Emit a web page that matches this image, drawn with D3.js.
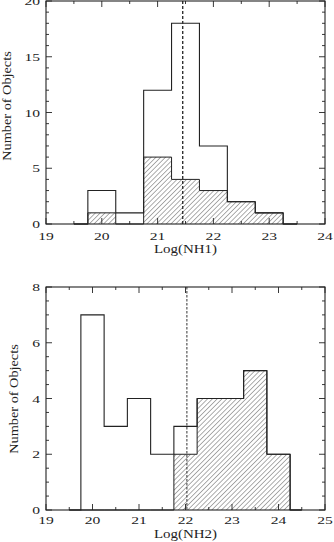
<!DOCTYPE html>
<html>
<head>
<meta charset="utf-8">
<script src="https://cdn.jsdelivr.net/npm/d3@7"></script>
<style>
  html, body { margin: 0; padding: 0; background: #fff; }
  svg { display: block; }
</style>
</head>
<body>
<svg id="chart" width="334" height="542"></svg>
<script>
// panel 1: Log(NH1)
const centers1 = [19.5, 20, 20.5, 21, 21.5, 22, 22.5, 23, 23.5];
const total1 = [0, 3, 1, 12, 18, 7, 2, 1, 0];
const hatched1 = [0, 1, 0, 6, 4, 3, 2, 1, 0];
const median1 = 21.45;
const xTicks1 = [19, 20, 21, 22, 23, 24];
const yTicks1 = [0, 5, 10, 15, 20];

// panel 2: Log(NH2)
const centers2 = [19.5, 20, 20.5, 21, 21.5, 22, 22.5, 23, 23.5, 24, 24.5];
const total2 = [0, 7, 3, 4, 2, 3, 4, 4, 5, 2, 0];
const hatched2 = [0, 0, 0, 0, 0, 2, 4, 4, 5, 2, 0];
const median2 = 22.03;
const xTicks2 = [19, 20, 21, 22, 23, 24, 25];
const yTicks2 = [0, 2, 4, 6, 8];

const svg = d3.select("#chart");
const ink = "#222";
const serif = "'Liberation Serif', 'Times New Roman', Times, serif";

svg.append("defs").append("pattern")
    .attr("id", "hatch")
    .attr("patternUnits", "userSpaceOnUse")
    .attr("width", 3.4)
    .attr("height", 3.4)
    .attr("patternTransform", "rotate(45)")
  .append("line")
    .attr("x1", 0).attr("y1", 0)
    .attr("x2", 0).attr("y2", 3.4)
    .attr("stroke", "#333")
    .attr("stroke-width", 0.8);

function label(g, transform, anchor, txt) {
    return g.append("text")
        .attr("transform", transform)
        .attr("text-anchor", anchor)
        .attr("font-family", serif)
        .attr("font-size", 13)
        .attr("fill", ink)
        .text(txt);
}

function panel(opt) {
    const left = 46, right = 325;
    const x = d3.scaleLinear().domain(opt.xDomain).range([left, right]);
    const y = d3.scaleLinear().domain(opt.yDomain).range([opt.bottom, opt.top]);
    const g = svg.append("g");

    const rows = opt.centers.map((c, i) => ({ c, all: opt.total[i], sub: opt.hatched[i] }));

    // hatched sub-sample
    g.append("path")
        .datum(rows)
        .attr("fill", "url(#hatch)")
        .attr("d", d3.area().curve(d3.curveStep)
            .x(d => x(d.c)).y0(y(0)).y1(d => y(d.sub)));

    g.append("path")
        .datum(rows)
        .attr("fill", "none")
        .attr("stroke", ink)
        .attr("stroke-width", 1)
        .attr("d", d3.line().curve(d3.curveStep).x(d => x(d.c)).y(d => y(d.sub)));

    // full sample outline
    g.append("path")
        .datum(rows)
        .attr("fill", "none")
        .attr("stroke", ink)
        .attr("stroke-width", 1.1)
        .attr("d", d3.line().curve(d3.curveStep).x(d => x(d.c)).y(d => y(d.all)));

    // median line
    g.append("line")
        .attr("x1", x(opt.median)).attr("x2", x(opt.median))
        .attr("y1", y(opt.yDomain[1])).attr("y2", y(0))
        .attr("stroke", "#333")
        .attr("stroke-width", opt.dashWidth)
        .attr("stroke-dasharray", opt.dash);

    // frame
    g.append("rect")
        .attr("x", left).attr("y", opt.top)
        .attr("width", right - left).attr("height", opt.bottom - opt.top)
        .attr("fill", "none")
        .attr("stroke", ink)
        .attr("stroke-width", 1.1);

    // ticks, inward on all four sides
    const ticks = g.append("g").attr("stroke", ink).attr("stroke-width", 0.9);
    const xMinor = d3.range(opt.xDomain[0], opt.xDomain[1] + 0.01, 0.5);
    xMinor.forEach(v => {
        const len = Number.isInteger(v) ? 6 : 3;
        ticks.append("line").attr("x1", x(v)).attr("x2", x(v))
            .attr("y1", opt.bottom).attr("y2", opt.bottom - len);
        ticks.append("line").attr("x1", x(v)).attr("x2", x(v))
            .attr("y1", opt.top).attr("y2", opt.top + len);
    });
    const yMinor = d3.range(opt.yDomain[0], opt.yDomain[1] + 0.01, opt.yMinorStep);
    yMinor.forEach(v => {
        const len = opt.yTicks.includes(v) ? 6 : 3;
        ticks.append("line").attr("y1", y(v)).attr("y2", y(v))
            .attr("x1", left).attr("x2", left + len);
        ticks.append("line").attr("y1", y(v)).attr("y2", y(v))
            .attr("x1", right).attr("x2", right - len);
    });

    // tick labels
    opt.xTicks.forEach(v => {
        label(g, `translate(${x(v)},${opt.bottom + opt.tickGap}) scale(1.2,0.85)`, "middle", v);
    });
    opt.yTicks.forEach(v => {
        label(g, `translate(${left - 6},${y(v) + 4}) scale(1.2,0.85)`, "end", v);
    });

    // axis titles
    label(g, `translate(${(left + right) / 2},${opt.bottom + opt.titleGap}) scale(1.15,0.9)`,
        "middle", opt.xTitle);
    label(g, `translate(${opt.yTitleX},${opt.yTitleY}) rotate(-90) scale(1.1,0.9)`,
        "middle", "Number of Objects");
}

panel({
    top: 1, bottom: 224,
    xDomain: [19, 24], yDomain: [0, 20], yMinorStep: 1,
    centers: centers1, total: total1, hatched: hatched1, median: median1,
    xTicks: xTicks1, yTicks: yTicks1,
    dash: "3,2", dashWidth: 1.4,
    xTitle: "Log(NH1)", tickGap: 16, titleGap: 29,
    yTitleX: 11, yTitleY: 106
});

panel({
    top: 287, bottom: 510,
    xDomain: [19, 25], yDomain: [0, 8], yMinorStep: 0.5,
    centers: centers2, total: total2, hatched: hatched2, median: median2,
    xTicks: xTicks2, yTicks: yTicks2,
    dash: "2.5,1.5", dashWidth: 1,
    xTitle: "Log(NH2)", tickGap: 14, titleGap: 28,
    yTitleX: 18, yTitleY: 399
});
</script>
</body>
</html>
